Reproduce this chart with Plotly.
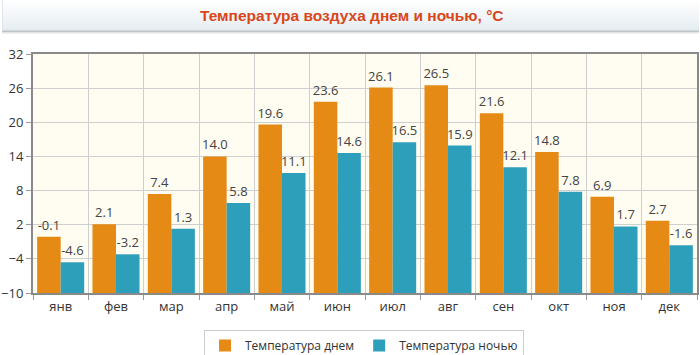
import plotly.graph_objects as go

months = ["янв", "фев", "мар", "апр", "май", "июн", "июл", "авг", "сен", "окт", "ноя", "дек"]
day_temp = [-0.1, 2.1, 7.4, 14.0, 19.6, 23.6, 26.1, 26.5, 21.6, 14.8, 6.9, 2.7]
night_temp = [-4.6, -3.2, 1.3, 5.8, 11.1, 14.6, 16.5, 15.9, 12.1, 7.8, 1.7, -1.6]
y_ticks = [-10, -4, 2, 8, 14, 20, 26, 32]
y_min, y_max = -10, 32

W, H = 700, 355
ML, MR, MT, MB = 33, 3, 54, 62
PW, PH = W - ML - MR, H - MT - MB

FONT = "Open Sans"

def px_x(p):
    return (p - ML) / PW

def px_y(p):
    return (H - MB - p) / PH

fig = go.Figure()
fig.add_trace(go.Bar(
    name="Температура днем", x=months,
    y=[v - y_min for v in day_temp], base=y_min,
    text=[f"{v:.1f}" for v in day_temp], textposition="outside",
    marker=dict(color="#E68A16", line=dict(width=0)),
    textfont=dict(family=FONT, size=13, color="#444"),
    cliponaxis=False,
))
fig.add_trace(go.Bar(
    name="Температура ночью", x=months,
    y=[v - y_min for v in night_temp], base=y_min,
    text=[f"{v:.1f}" for v in night_temp], textposition="outside",
    marker=dict(color="#2E9FBA", line=dict(width=0)),
    textfont=dict(family=FONT, size=13, color="#444"),
    cliponaxis=False,
))

# title bar gradient
shapes = []
n = 16
top_c = (255, 255, 255)
bot_c = (228, 236, 241)
for i in range(n):
    t = i / (n - 1)
    c = tuple(int(top_c[k] + (bot_c[k] - top_c[k]) * t) for k in range(3))
    y0p = 31 * i / n
    y1p = 31 * (i + 1) / n
    shapes.append(dict(type="rect", xref="paper", yref="paper",
                       x0=px_x(2), x1=px_x(699), y0=px_y(y1p), y1=px_y(y0p),
                       fillcolor=f"rgb{c}", line=dict(width=0), layer="below"))
shapes.append(dict(type="line", xref="paper", yref="paper",
                   x0=px_x(2), x1=px_x(699), y0=px_y(31.5), y1=px_y(31.5),
                   line=dict(color="#bfc4c8", width=2)))
shapes.append(dict(type="line", xref="paper", yref="paper",
                   x0=px_x(2), x1=px_x(699), y0=px_y(33), y1=px_y(33),
                   line=dict(color="#e6e6e6", width=1)))
shapes.append(dict(type="line", xref="paper", yref="paper",
                   x0=px_x(2.5), x1=px_x(2.5), y0=px_y(31), y1=px_y(0),
                   line=dict(color="#e2e6ea", width=1)))

fig.update_layout(
    width=W, height=H,
    margin=dict(l=ML, r=MR, t=MT, b=MB, autoexpand=False),
    paper_bgcolor="white",
    plot_bgcolor="#FFFCF1",
    barmode="group", bargap=0.15, bargroupgap=0.0,
    uniformtext=dict(minsize=13, mode="show"),
    showlegend=True,
    legend=dict(orientation="h", xanchor="center", x=px_x(364), yanchor="top", y=px_y(330),
                bordercolor="#cccccc", borderwidth=1, bgcolor="white",
                font=dict(family=FONT, size=12, color="#333"),
                itemwidth=30, tracegroupgap=0),
    shapes=shapes,
    annotations=[dict(text="Температура воздуха днем и ночью, °C", xref="paper", yref="paper",
                      x=px_x(352), y=px_y(16), xanchor="center", yanchor="middle", showarrow=False,
                      font=dict(family="Liberation Sans", size=15.5, color="#D9461B", weight="bold"))],
    xaxis=dict(tickson="boundaries", ticks="outside", ticklen=5, tickcolor="#999",
               showgrid=True, gridcolor="#cfcfcf", gridwidth=1, automargin=False,
               showline=True, linecolor="#8a8a8a", linewidth=2, mirror=True,
               tickfont=dict(family=FONT, size=13, color="#333"), fixedrange=True),
    yaxis=dict(range=[y_min, y_max], tickvals=y_ticks, ticks="outside", ticklen=5, tickcolor="#999",
               showgrid=True, gridcolor="#cfcfcf", gridwidth=1, zeroline=False, automargin=False,
               showline=True, linecolor="#8a8a8a", linewidth=2, mirror=True, ticklabelstandoff=0,
               tickfont=dict(family=FONT, size=13, color="#333"), fixedrange=True),
    font=dict(family=FONT),
)

fig.write_html("out.html", config={"displayModeBar": False},
               post_script="document.body.style.margin='0';document.body.style.overflow='hidden';")
